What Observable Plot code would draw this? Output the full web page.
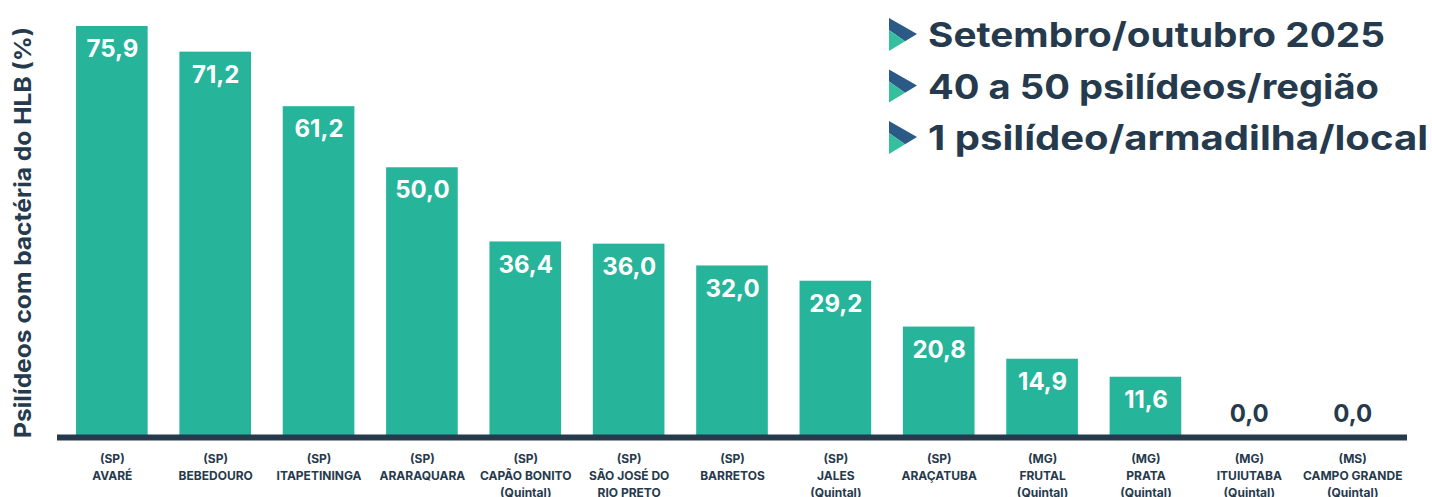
<!DOCTYPE html>
<html>
<head>
<meta charset="utf-8">
<script src="https://cdn.jsdelivr.net/npm/d3@7"></script>
<script src="https://cdn.jsdelivr.net/npm/@observablehq/plot@0.6"></script>
<style>
  html, body { margin: 0; padding: 0; background: #ffffff; }
  #chart { width: 1432px; height: 497px; overflow: hidden; }
</style>
</head>
<body>
<div id="chart"></div>
<script>
// ---- data ----
const regions = ["AVARÉ", "BEBEDOURO", "ITAPETININGA", "ARARAQUARA", "CAPÃO BONITO", "SÃO JOSÉ DO RIO PRETO", "BARRETOS", "JALES", "ARAÇATUBA", "FRUTAL", "PRATA", "ITUIUTABA", "CAMPO GRANDE"];
const regionLabels = ["AVARÉ", "BEBEDOURO", "ITAPETININGA", "ARARAQUARA", "CAPÃO BONITO", "SÃO JOSÉ DO\nRIO PRETO", "BARRETOS", "JALES", "ARAÇATUBA", "FRUTAL", "PRATA", "ITUIUTABA", "CAMPO GRANDE"];
const states = ["SP", "SP", "SP", "SP", "SP", "SP", "SP", "SP", "SP", "MG", "MG", "MG", "MS"];
const quintal = [false, false, false, false, true, false, false, true, false, true, true, true, true];
const values = [75.9, 71.2, 61.2, 50.0, 36.4, 36.0, 32.0, 29.2, 20.8, 14.9, 11.6, 0.0, 0.0];
const yTitle = "Psilídeos com bactéria do HLB (%)";
const legendLines = ["Setembro/outubro 2025", "40 a 50 psilídeos/região", "1 psilídeo/armadilha/local"];

// ---- styles ----
const TEAL = "#26b59b";
const DARK = "#263a4d";
const TRI_BLUE = "#2b5a86";
const TRI_TEAL = "#36bf9f";

const data = regions.map((r, i) => ({region: r, state: states[i], label: regionLabels[i], quintal: quintal[i], value: values[i]}));
const labelOf = new Map(data.map(d => [d.region, `(${d.state})\n${d.label}${d.quintal ? "\n(Quintal)" : ""}`]));
const fmt = v => v.toFixed(1).replace(".", ",");

const chart = Plot.plot({
  width: 1432,
  height: 497,
  marginLeft: 57,
  marginRight: 25,
  marginTop: 26,
  marginBottom: 57,
  style: {fontFamily: "Inter, 'Open Sans', sans-serif", background: "#ffffff", color: DARK},
  x: {domain: regions, paddingInner: 0.307, paddingOuter: 0.184, round: false, axis: null},
  y: {domain: [0, 75.9], axis: null},
  marks: [
    Plot.barY(data, {x: "region", y: "value", fill: TEAL}),
    Plot.ruleY([0], {stroke: DARK, strokeWidth: 6, dy: -3}),
    Plot.text(data.filter(d => d.value > 0), {
      x: "region", y: "value", text: d => fmt(d.value),
      dy: 23, lineAnchor: "middle", fill: "#ffffff", fontSize: 24, fontWeight: 700
    }),
    Plot.text(data.filter(d => d.value === 0), {
      x: "region", y: "value", text: d => fmt(d.value),
      dy: -26, lineAnchor: "middle", fill: DARK, fontSize: 24, fontWeight: 700
    }),
    Plot.axisX({
      tickSize: 0, tickPadding: 11, tickFormat: d => labelOf.get(d),
      fontSize: 12, fontWeight: 700, lineHeight: 1.4, color: DARK, label: null
    })
  ]
});

document.getElementById("chart").appendChild(chart);

// ---- decorations: y title and legend ----
const svg = d3.select(chart);

svg.append("text")
  .attr("transform", "translate(31,232.5) rotate(-90)")
  .attr("text-anchor", "middle")
  .attr("fill", DARK)
  .attr("font-family", "Inter, 'Open Sans', sans-serif")
  .attr("font-size", 23)
  .attr("font-weight", 700)
  .attr("textLength", 411)
  .attr("lengthAdjust", "spacingAndGlyphs")
  .text(yTitle);

const legendWidths = [457, 451, 500];
const lg = svg.append("g");
legendLines.forEach((t, i) => {
  const base = 47 + i * 51.5;
  const g = lg.append("g");
  g.append("polygon")
    .attr("points", `889,${base - 29} 917,${base - 13} 905,${base - 5.7} 889,${base - 17}`)
    .attr("fill", TRI_BLUE);
  g.append("polygon")
    .attr("points", `889,${base - 17} 905,${base - 5.7} 889,${base + 4}`)
    .attr("fill", TRI_TEAL);
  g.append("text")
    .attr("x", 928)
    .attr("y", base)
    .attr("text-anchor", "start")
    .attr("fill", DARK)
    .attr("font-family", "Inter, 'Open Sans', sans-serif")
    .attr("font-size", 34)
    .attr("font-weight", 700)
    .attr("textLength", legendWidths[i])
    .attr("lengthAdjust", "spacingAndGlyphs")
    .text(t);
});
</script>
</body>
</html>
